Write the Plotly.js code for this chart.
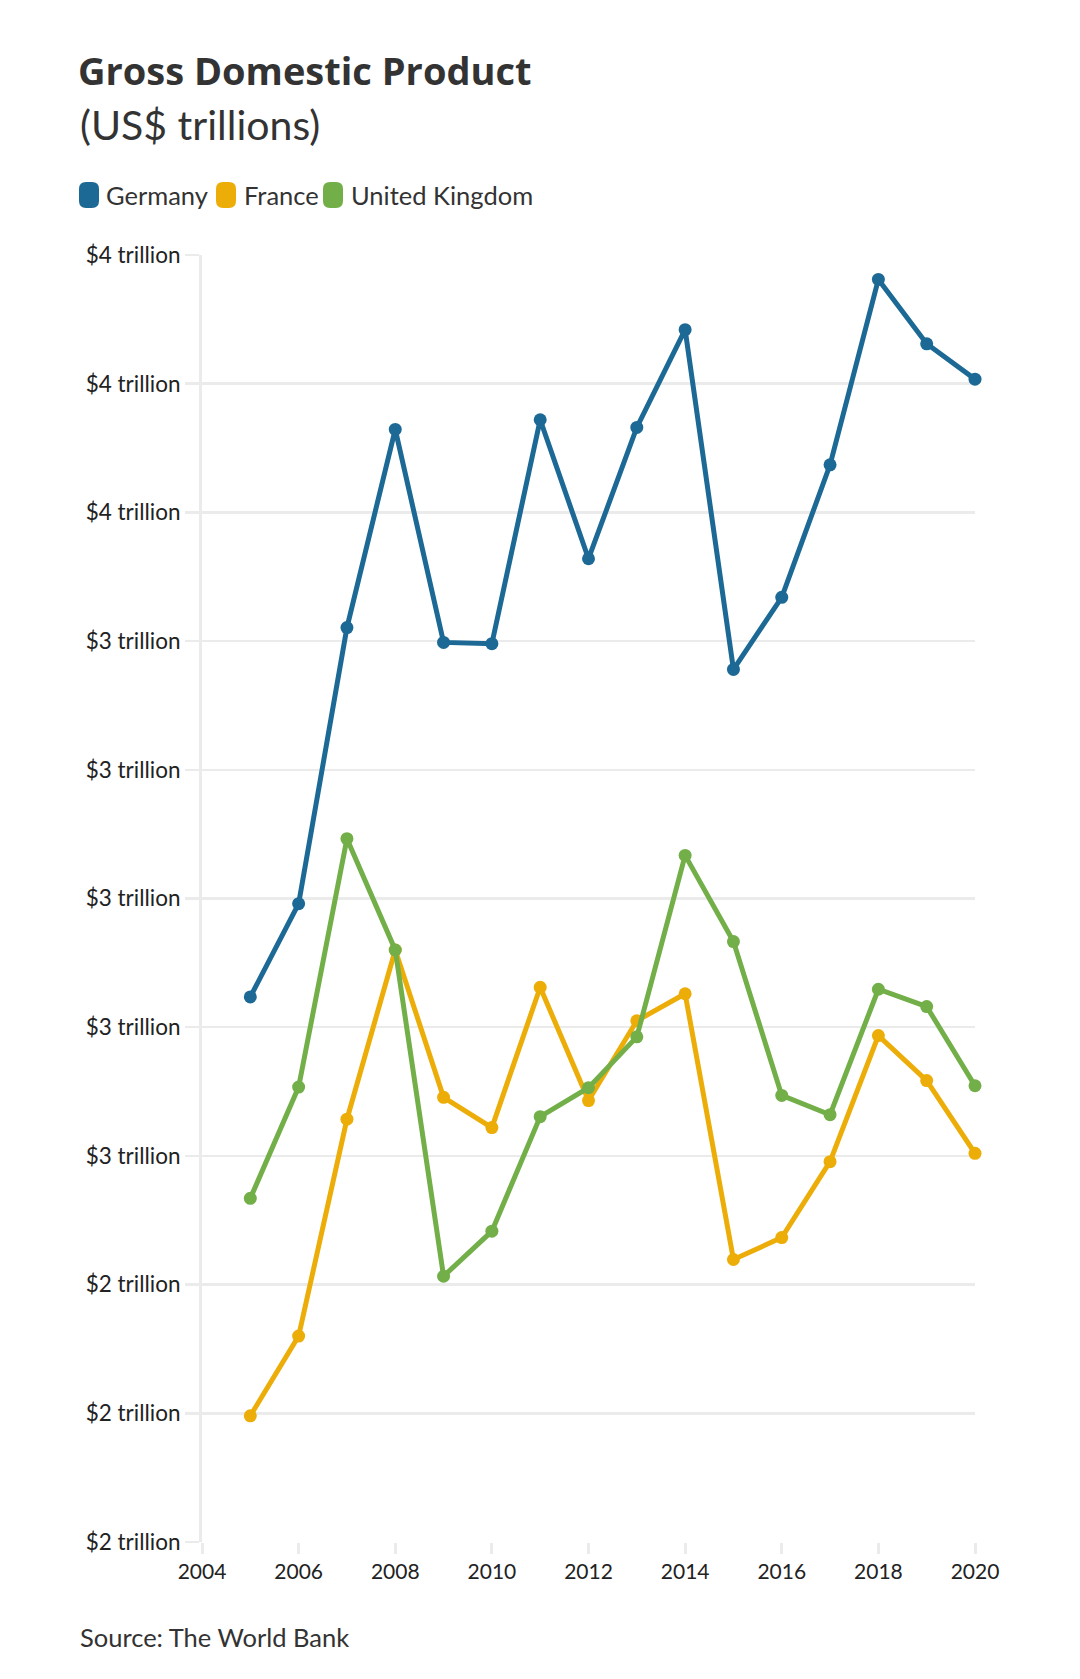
<!DOCTYPE html>
<html>
<head>
<meta charset="utf-8">
<script src="https://cdn.plot.ly/plotly-3.0.1.min.js"></script>
<style>html,body{margin:0;padding:0;background:#fff;}#chart{width:1080px;height:1679px;}</style>
</head>
<body>
<div id="chart"></div>
<script>
const years = [2005,2006,2007,2008,2009,2010,2011,2012,2013,2014,2015,2016,2017,2018,2019,2020];
const germany = [2.847,2.992,3.421,3.729,3.398,3.396,3.744,3.528,3.732,3.884,3.356,3.468,3.674,3.962,3.862,3.807];
const france  = [2.196,2.320,2.657,2.920,2.691,2.644,2.862,2.686,2.810,2.852,2.439,2.473,2.591,2.787,2.717,2.604];
const uk      = [2.534,2.707,3.093,2.920,2.413,2.483,2.661,2.706,2.785,3.067,2.933,2.694,2.664,2.859,2.832,2.709];
const seriesNames = ['Germany','France','United Kingdom'];
const colors = ['#1D6996','#EDAD08','#73AF48'];
const yTicks = [2.0,2.2,2.4,2.6,2.8,3.0,3.2,3.4,3.6,3.8,4.0];
const yTickText = yTicks.map(v => '$' + Math.round(v) + ' trillion');
const xTicks = [2004,2006,2008,2010,2012,2014,2016,2018,2020];

const FONT = 'Lato, "Source Sans Pro", sans-serif';
const TFONT = '"Open Sans", Lato, sans-serif';
const W = 1080, H = 1679;
const L = 202, R = 975, T = 255, B = 1542;
const px = x => (x - L) / (R - L);
const py = y => (B - y) / (B - T);

const allSeries = [germany, france, uk];
const traces = allSeries.map((vals, i) => ({
  x: years, y: vals, name: seriesNames[i], type: 'scatter', mode: 'lines+markers',
  line: {color: colors[i], width: 5},
  marker: {color: colors[i], size: 13},
  cliponaxis: false,
  hoverinfo: 'x+y'
}));

const shapes = [];
const annotations = [];
const legendItems = [
  {sx: 79, tx: 104},
  {sx: 216, tx: 242},
  {sx: 323, tx: 349}
];
function roundRect(x0, y0, w, h, r) {
  const p = (x, y) => px(x) + ',' + py(y);
  return 'M' + p(x0 + r, y0) + ' L' + p(x0 + w - r, y0) + ' Q' + p(x0 + w, y0) + ' ' + p(x0 + w, y0 + r) +
    ' L' + p(x0 + w, y0 + h - r) + ' Q' + p(x0 + w, y0 + h) + ' ' + p(x0 + w - r, y0 + h) +
    ' L' + p(x0 + r, y0 + h) + ' Q' + p(x0, y0 + h) + ' ' + p(x0, y0 + h - r) +
    ' L' + p(x0, y0 + r) + ' Q' + p(x0, y0) + ' ' + p(x0 + r, y0) + ' Z';
}
legendItems.forEach((it, i) => {
  shapes.push({type: 'path', xref: 'paper', yref: 'paper', path: roundRect(it.sx, 182, 20, 26, 7),
    fillcolor: colors[i], line: {width: 0}});
  annotations.push({xref: 'paper', yref: 'paper', x: px(it.tx), y: py(195), xanchor: 'left', yanchor: 'middle',
    text: seriesNames[i], showarrow: false, font: {family: FONT, size: 25.5, color: '#333'}});
});

annotations.push({xref: 'paper', yref: 'paper', x: px(78), y: py(124), xanchor: 'left', yanchor: 'middle',
  text: '(US$ trillions)', showarrow: false, font: {family: FONT, size: 41, color: '#333'}});
annotations.push({xref: 'paper', yref: 'paper', x: px(78), y: py(1637), xanchor: 'left', yanchor: 'middle',
  text: 'Source: The World Bank', showarrow: false, font: {family: FONT, size: 25.5, color: '#333'}});

const layout = {
  width: W, height: H,
  margin: {l: L, r: W - R, t: T, b: H - B, pad: 0},
  paper_bgcolor: '#fff', plot_bgcolor: '#fff',
  showlegend: false,
  title: {text: '<b>Gross Domestic Product</b>', x: 78 / W, xanchor: 'left', xref: 'container',
    y: 1 - 72 / H, yanchor: 'middle', yref: 'container', font: {family: TFONT, size: 38, color: '#333'}},
  xaxis: {range: [2004, 2020], tickvals: xTicks, ticktext: xTicks.map(String),
    showgrid: false, zeroline: false, showline: false,
    ticks: 'outside', ticklen: 11, tickwidth: 3, tickcolor: '#ebebeb',
    tickfont: {family: FONT, size: 21, color: '#222'}},
  yaxis: {range: [2.0, 4.0], tickmode: 'array', tickvals: yTicks, ticktext: yTickText,
    showgrid: true, gridcolor: '#ebebeb', gridwidth: 2.5, zeroline: false,
    showline: true, linecolor: '#ebebeb', linewidth: 3,
    ticks: 'outside', ticklen: 14, tickwidth: 2.5, tickcolor: '#ebebeb',
    tickfont: {family: FONT, size: 22.5, color: '#222'}},
  shapes: shapes,
  annotations: annotations
};

Plotly.newPlot('chart', traces, layout, {displayModeBar: false, staticPlot: true});
</script>
</body>
</html>
